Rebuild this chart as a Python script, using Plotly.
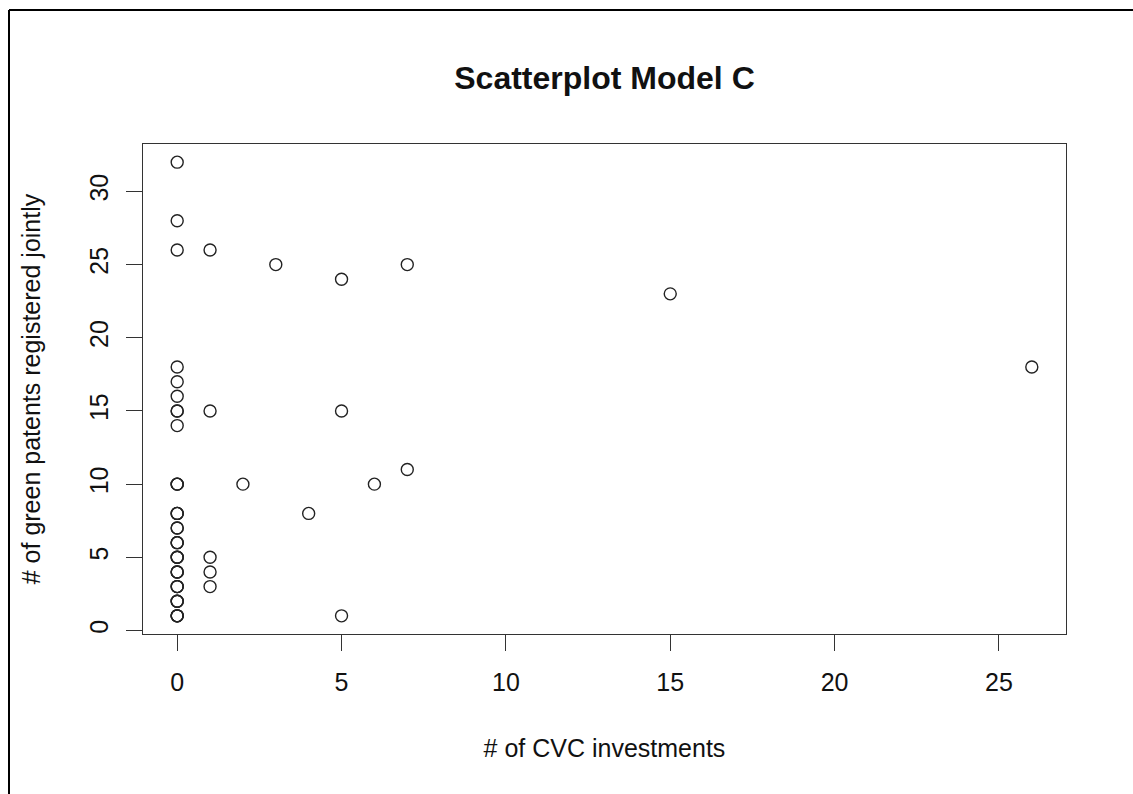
import plotly.graph_objects as go

# Data (duplicates reflect overlapping observations)
cvc_investments = [0]*36 + [1]*5 + [2] + [3] + [4] + [5]*3 + [6] + [7]*2 + [15] + [26]
green_patents = (
    [32, 28, 26, 18, 17, 16, 15, 15, 14, 10, 10, 10, 8, 8, 8, 7, 7, 6, 6, 6,
     5, 5, 5, 4, 4, 4, 3, 3, 3, 2, 2, 2, 1, 1, 1, 1]
    + [26, 15, 5, 4, 3]
    + [10]
    + [25]
    + [8]
    + [24, 15, 1]
    + [10]
    + [25, 11]
    + [23]
    + [18]
)
x_ticks = [0, 5, 10, 15, 20, 25]
y_ticks = [0, 5, 10, 15, 20, 25, 30]

W, H = 1133, 794
L, R, T, B = 143, 67, 144, 160
pw, ph = W - L - R, H - T - B

FONT = "Liberation Sans, Arial, Helvetica, sans-serif"

fig = go.Figure()
fig.add_trace(go.Scatter(
    x=cvc_investments, y=green_patents, mode="markers",
    marker=dict(symbol="circle-open", size=12, color="#222",
                line=dict(width=1.4, color="#222")),
    hoverinfo="x+y", showlegend=False,
))

axis_common = dict(
    showgrid=False, zeroline=False, showline=True, mirror=True,
    linecolor="#333", linewidth=1.3, ticks="outside", ticklen=16,
    tickwidth=1.3, tickcolor="#333",
    tickfont=dict(family=FONT, size=25, color="#111"),
)

fig.update_layout(
    width=W, height=H,
    margin=dict(l=L, r=R, t=T, b=B),
    paper_bgcolor="white", plot_bgcolor="white",
    title=dict(text="<b>Scatterplot Model C</b>", x=0.5, xref="paper",
               xanchor="center", y=1 - 78 / H, yref="container", yanchor="middle",
               font=dict(family=FONT, size=32, color="#111")),
    xaxis=dict(range=[-1.04, 27.04], tickvals=x_ticks,
               ticklabelstandoff=10,
               title=dict(text="# of CVC investments", standoff=44,
                          font=dict(family=FONT, size=25, color="#111")),
               **axis_common),
    yaxis=dict(range=[-0.24, 33.24], tickvals=y_ticks, tickangle=-90,
               ticklabelstandoff=8,
               title=dict(text="# of green patents registered jointly", standoff=37,
                          font=dict(family=FONT, size=25, color="#111")),
               **axis_common),
)

# outer frame (top and left edges)
x_left = (9 - L) / pw
y_top = (H - B - 10) / ph
y_bot = (H - B - H) / ph
fig.add_shape(type="line", xref="paper", yref="paper",
              x0=x_left, x1=(W - L) / pw, y0=y_top, y1=y_top,
              line=dict(color="black", width=2))
fig.add_shape(type="line", xref="paper", yref="paper",
              x0=x_left, x1=x_left, y0=y_top, y1=y_bot,
              line=dict(color="black", width=2))

fig.write_html("out.html")
